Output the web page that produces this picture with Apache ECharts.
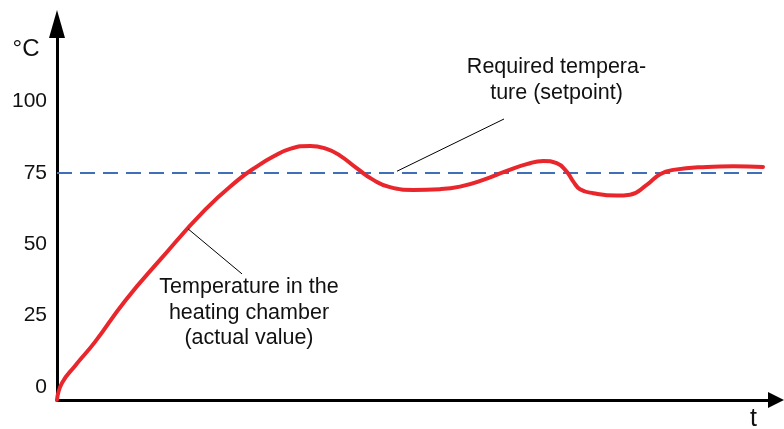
<!DOCTYPE html>
<html>
<head>
<meta charset="utf-8">
<title>Heating chamber temperature</title>
<script src="https://cdn.jsdelivr.net/npm/echarts@6/dist/echarts.min.js"></script>
<style>
  html, body { margin: 0; padding: 0; background: #ffffff; }
  #chart { width: 784px; height: 429px; }
</style>
</head>
<body>
<div id="chart"></div>
<script>
// Time (arbitrary units) and measured chamber temperature (°C)
const timePoints = [0, 0.70, 2.50, 5.29, 9.46, 14.33, 20.58, 25.2, 27.77, 30.08, 32.41, 35.19, 37.5, 39.36, 41.68, 43.99, 46.31, 49.55, 53.27, 56.05, 59.29, 62.55, 65.33, 67.64, 69.5, 70.89, 71.81, 72.74, 74.59, 77.84, 79.69, 82.02, 83.87, 85.72, 90.36, 94.06, 98.19];
const actualTemp = [-4.56, 1.4, 7.36, 15.77, 30.14, 44.51, 62.04, 72.56, 77.22, 80.72, 83.42, 84.47, 83.42, 81.07, 76.66, 72.56, 70.0, 69.05, 69.3, 70.21, 72.56, 75.71, 78.06, 79.21, 78.41, 75.46, 71.96, 69.3, 67.89, 67.05, 67.37, 70.8, 74.55, 76.06, 77.11, 77.36, 77.11];

// Required temperature (setpoint) and its time span
const setpoint = 75;
const setpointSpan = [0, 98.19];

// Tick labels on the temperature axis
const tempTicks = [0, 25, 50, 75, 100];

// Annotation texts, their anchor points and leader lines (data coordinates)
const actualLabel = 'Temperature in the\nheating chamber\n(actual value)';
const actualLabelAt = [26.7, 25.9];
const actualLeader = [[18.22, 55.4], [25.73, 39.6]];
const setpointLabel = 'Required tempera-\nture (setpoint)';
const setpointLabelAt = [69.47, 107.5];
const setpointLeader = [[62.17, 93.9], [47.29, 75.6]];

const FONT = '"Liberation Sans", Arial, Helvetica, sans-serif';
const TEXT = '#111111';

const chart = echarts.init(document.getElementById('chart'), null, { renderer: 'canvas' });

const actualData = timePoints.map((t, i) => [t, actualTemp[i]]);
const setpointData = setpointSpan.map(t => [t, setpoint]);

const option = {
  animation: false,
  backgroundColor: '#ffffff',
  grid: { left: 57, right: 8, top: 24, bottom: 29 },
  xAxis: {
    type: 'value',
    min: 0,
    max: 100,
    axisLine: {
      show: true,
      onZero: false,
      symbol: ['none', 'triangle'],
      symbolSize: [16, 16],
      lineStyle: { color: '#000000', width: 3 }
    },
    axisTick: { show: false },
    axisLabel: { show: false },
    splitLine: { show: false }
  },
  yAxis: {
    type: 'value',
    min: -4.6,
    max: 127.2,
    axisLine: {
      show: true,
      onZero: false,
      symbol: ['none', 'triangle'],
      symbolSize: [16, 28],
      lineStyle: { color: '#000000', width: 3 }
    },
    axisTick: { show: false },
    axisLabel: {
      show: true,
      customValues: tempTicks,
      margin: 10,
      fontSize: 21,
      fontFamily: FONT,
      color: TEXT
    },
    splitLine: { show: false }
  },
  series: [
    {
      name: 'setpoint',
      type: 'line',
      data: setpointData,
      symbol: 'none',
      silent: true,
      lineStyle: { color: '#3f6fb8', width: 2, type: [15, 8] },
      markLine: {
        silent: true,
        symbol: ['none', 'none'],
        label: { show: false },
        lineStyle: { color: '#000000', width: 1, type: 'solid' },
        data: [
          [{ coord: setpointLeader[0] }, { coord: setpointLeader[1] }],
          [{ coord: actualLeader[0] }, { coord: actualLeader[1] }]
        ]
      },
      z: 2
    },
    {
      name: 'actual',
      type: 'line',
      data: actualData,
      symbol: 'none',
      smooth: 0.5,
      silent: true,
      lineStyle: { color: '#e8262b', width: 4, cap: 'round', join: 'round' },
      z: 3
    }
  ]
};

chart.setOption(option);

// Text annotations placed through the axes' coordinate system
function placeTexts() {
  const a = chart.convertToPixel({ gridIndex: 0 }, actualLabelAt);
  const s = chart.convertToPixel({ gridIndex: 0 }, setpointLabelAt);
  const common = {
    fill: TEXT,
    fontFamily: FONT,
    align: 'center',
    verticalAlign: 'middle'
  };
  chart.setOption({
    graphic: [
      { type: 'text', x: a[0], y: a[1], z: 10, style: Object.assign({ text: actualLabel, fontSize: 21.5, lineHeight: 25.5 }, common) },
      { type: 'text', x: s[0], y: s[1], z: 10, style: Object.assign({ text: setpointLabel, fontSize: 21.5, lineHeight: 26.5 }, common) },
      { type: 'text', x: 26, y: 49, z: 10, style: Object.assign({ text: '°C', fontSize: 24 }, common) },
      { type: 'text', x: 753.5, y: 419, z: 10, style: Object.assign({ text: 't', fontSize: 25 }, common) }
    ]
  });
}
placeTexts();
</script>
</body>
</html>
